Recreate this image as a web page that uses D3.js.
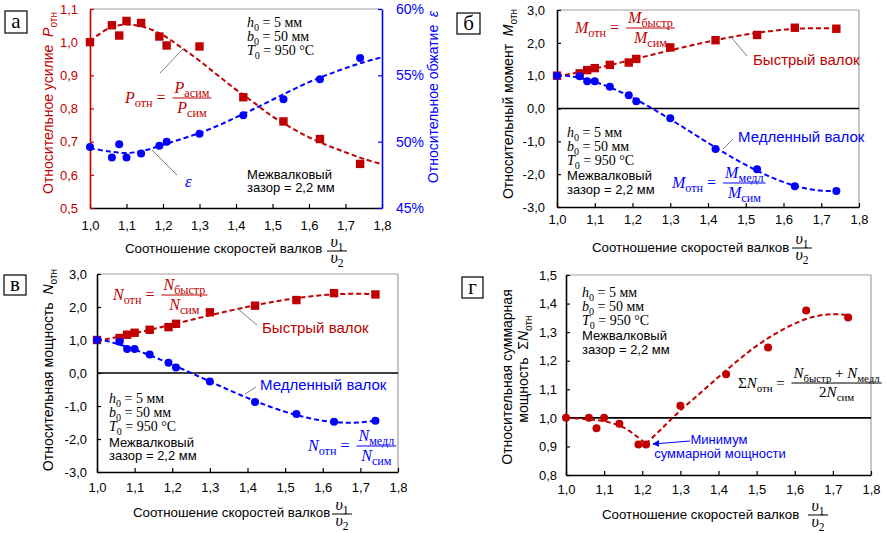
<!DOCTYPE html>
<html><head><meta charset="utf-8">
<script src="https://cdn.jsdelivr.net/npm/d3@7"></script>
<style>
body{margin:0;background:#fff}
svg{display:block}
text{white-space:pre}
</style>
</head><body>
<svg id="c" width="886" height="533"></svg>
<script>
// ---------------- data ----------------
const speedRatio   = [1.00, 1.06, 1.08, 1.10, 1.14, 1.19, 1.21, 1.30, 1.42, 1.53, 1.63, 1.74];
const forceRel     = [1.000, 1.051, 1.020, 1.064, 1.058, 1.017, 0.990, 0.987, 0.834, 0.761, 0.708, 0.633];
const reductionPct = [49.6, 48.8, 49.8, 48.8, 49.1, 49.7, 50.0, 50.6, 52.0, 53.2, 54.7, 56.3];
const torqueFast   = [1.00, 1.07, 1.17, 1.23, 1.33, 1.40, 1.51, 1.86, 2.08, 2.24, 2.46, 2.43];
const torqueSlow   = [1.00, 0.98, 0.83, 0.83, 0.66, 0.40, 0.22, -0.30, -1.23, -1.85, -2.37, -2.51];
const powerFast    = [1.00, 1.06, 1.16, 1.22, 1.31, 1.39, 1.49, 1.84, 2.04, 2.21, 2.42, 2.38];
const powerSlow    = [1.00, 0.95, 0.73, 0.73, 0.56, 0.31, 0.17, -0.26, -0.88, -1.24, -1.48, -1.45];
const powerSum     = [1.000, 1.000, 0.964, 1.000, 0.979, 0.907, 0.907, 1.042, 1.153, 1.246, 1.376, 1.351];

// trend lines of panels а and г
const trendX         = [1.00, 1.05, 1.10, 1.15, 1.20, 1.25, 1.30, 1.35, 1.40, 1.45, 1.50, 1.55, 1.60, 1.65, 1.70, 1.75, 1.80];
const forceTrend     = [1.003, 1.041, 1.053, 1.045, 1.021, 0.984, 0.944, 0.900, 0.857, 0.817, 0.776, 0.743, 0.713, 0.689, 0.668, 0.648, 0.632];
const reductionTrend = [49.52, 49.27, 49.14, 49.34, 49.77, 50.20, 50.65, 51.20, 51.83, 52.48, 53.16, 53.84, 54.49, 55.04, 55.54, 55.99, 56.37];
const sumTrendX1     = [1.00, 1.05, 1.10, 1.15, 1.20, 1.21];
const sumTrend1      = [1.000, 0.996, 0.988, 0.967, 0.920, 0.909];
const sumTrendX2     = [1.21, 1.25, 1.30, 1.35, 1.40, 1.45, 1.50, 1.55, 1.60, 1.65, 1.70, 1.74];
const sumTrend2      = [0.909, 0.961, 1.026, 1.084, 1.143, 1.200, 1.252, 1.295, 1.330, 1.354, 1.363, 1.359];

const xTicks         = [1.0, 1.1, 1.2, 1.3, 1.4, 1.5, 1.6, 1.7, 1.8];
const forceTicks     = [0.5, 0.6, 0.7, 0.8, 0.9, 1.0, 1.1];
const reductionTicks = [45, 50, 55, 60];
const relTicks       = [-3, -2, -1, 0, 1, 2, 3];
const sumTicks       = [0.8, 0.9, 1.0, 1.1, 1.2, 1.3, 1.4, 1.5];

// ---------------- helpers ----------------
const svg = d3.select("#c");
const RED = "#c00000", BLUE = "#0000ff", FRAME = "#a0a0a0", LEAD = "#7f7f7f";
const SANS = "'Liberation Sans', Arial, sans-serif";
const SERIF = "'Liberation Serif', 'Times New Roman', serif";
const fmt1 = d => d3.format(".1f")(d).replace(".", ",").replace("\u2212", "-");
const fmtPct = d => d + "%";

function polyfit(xs, ys, deg) {
  const c = 1.4, n = deg + 1;
  const A = Array.from({length: n}, () => new Array(n + 1).fill(0));
  xs.forEach((xv, k) => {
    const t = xv - c;
    for (let i = 0; i < n; i++) {
      for (let j = 0; j < n; j++) A[i][j] += Math.pow(t, i + j);
      A[i][n] += ys[k] * Math.pow(t, i);
    }
  });
  for (let i = 0; i < n; i++) {
    let p = i;
    for (let r = i + 1; r < n; r++) if (Math.abs(A[r][i]) > Math.abs(A[p][i])) p = r;
    [A[i], A[p]] = [A[p], A[i]];
    for (let r = 0; r < n; r++) if (r !== i) {
      const f = A[r][i] / A[i][i];
      for (let k = i; k <= n; k++) A[r][k] -= f * A[i][k];
    }
  }
  const coef = A.map((row, i) => row[n] / row[i]);
  return xv => coef.reduce((s, a, i) => s + a * Math.pow(xv - c, i), 0);
}

function rich(g, x, y, parts, o = {}) {
  const size = o.size || 14;
  const subScale = o.sub || 0.72;
  const t = g.append("text").attr("x", x).attr("y", y)
    .attr("fill", o.color || "#000").attr("font-family", o.family || SERIF)
    .attr("font-size", size).attr("text-anchor", o.anchor || "start");
  if (o.transform) t.attr("transform", o.transform);
  let shift = 0;
  parts.forEach(p => {
    const [txt, st = ""] = Array.isArray(p) ? p : [p, ""];
    const sub = st.includes("s");
    const target = sub ? size * 0.25 : 0;
    const ts = t.append("tspan").text(txt).attr("font-size", sub ? size * subScale : size);
    if (st.includes("i")) ts.attr("font-style", "italic");
    if (target !== shift) { ts.attr("dy", target - shift); shift = target; }
  });
  return t;
}

function formula(g, x, barY, lhs, num, den, color, size = 15, sub = 0.72) {
  const l = rich(g, x, barY + size * 0.33, lhs, {size, color, sub});
  const lw = l.node().getComputedTextLength();
  const fx = x + lw + 3;
  const n = rich(g, 0, barY - 5, num, {size, color, anchor: "middle", sub});
  const d = rich(g, 0, barY + size * 0.95, den, {size, color, anchor: "middle", sub});
  const bw = Math.max(n.node().getComputedTextLength(), d.node().getComputedTextLength()) + 4;
  n.attr("x", fx + bw / 2); d.attr("x", fx + bw / 2);
  g.append("line").attr("x1", fx).attr("x2", fx + bw).attr("y1", barY).attr("y2", barY)
    .attr("stroke", color).attr("stroke-width", 1);
}

function styleAxis(a, color) {
  a.attr("font-family", SANS).attr("font-size", 13);
  a.selectAll(".domain").attr("stroke", color).attr("stroke-width", 1.6);
  a.selectAll(".tick line").attr("stroke", color).attr("stroke-width", 1.2);
  a.selectAll(".tick text").attr("fill", color);
}

function panel(o) {
  const g = svg.append("g");
  const x = d3.scaleLinear().domain([1, 1.8]).range([o.x0, o.x1]);
  const y = d3.scaleLinear().domain(o.yDomain).range([o.y1, o.y0]);
  g.append("line").attr("x1", o.x0).attr("x2", o.x1).attr("y1", o.y0).attr("y2", o.y0)
    .attr("stroke", FRAME).attr("stroke-width", 1.2);
  if (!o.right) g.append("line").attr("x1", o.x1).attr("x2", o.x1).attr("y1", o.y0).attr("y2", o.y1)
    .attr("stroke", FRAME).attr("stroke-width", 1.2);
  if (o.zero !== undefined) g.append("line").attr("x1", o.x0).attr("x2", o.x1)
    .attr("y1", y(o.zero)).attr("y2", y(o.zero)).attr("stroke", "#000").attr("stroke-width", 1.6);
  const ax = g.append("g").attr("transform", `translate(0,${o.y1})`)
    .call(d3.axisBottom(x).tickValues(xTicks).tickFormat(fmt1).tickSizeInner(-4).tickSizeOuter(0).tickPadding(o.xPad));
  styleAxis(ax, "#000");
  const ay = g.append("g").attr("transform", `translate(${o.x0},0)`)
    .call(d3.axisLeft(y).tickValues(o.yTicks).tickFormat(o.yFmt).tickSizeInner(-4).tickSizeOuter(0).tickPadding(o.yPad));
  styleAxis(ay, o.leftColor || "#000");
  return {g, x, y};
}

function dashed(P, pts, y, color) {
  P.g.append("path").datum(pts).attr("fill", "none").attr("stroke", color)
    .attr("stroke-width", 2).attr("stroke-dasharray", "5,3")
    .attr("d", d3.line().curve(d3.curveCatmullRom).x(d => P.x(d[0])).y(d => y(d[1])));
}
function fitTrend(P, y, xs, ys, deg, from, to, color) {
  const f = polyfit(xs, ys, deg);
  const pts = d3.range(from, to + 1e-9, 0.005).map(v => [v, f(v)]);
  if (pts[pts.length - 1][0] < to) pts.push([to, f(to)]);
  dashed(P, pts, y, color);
}
function squares(P, y, vals, color) {
  P.g.append("g").selectAll("rect").data(d3.zip(speedRatio, vals)).join("rect")
    .attr("x", d => P.x(d[0]) - 4.2).attr("y", d => y(d[1]) - 4.2)
    .attr("width", 8.4).attr("height", 8.4).attr("fill", color);
}
function circles(P, y, vals, color) {
  P.g.append("g").selectAll("circle").data(d3.zip(speedRatio, vals)).join("circle")
    .attr("cx", d => P.x(d[0])).attr("cy", d => y(d[1])).attr("r", 4).attr("fill", color);
}
function lead(x1, y1, x2, y2) {
  svg.append("line").attr("x1", x1).attr("y1", y1).attr("x2", x2).attr("y2", y2)
    .attr("stroke", LEAD).attr("stroke-width", 1);
}
function tag(x, y, w, h, letter) {
  svg.append("rect").attr("x", x).attr("y", y).attr("width", w).attr("height", h)
    .attr("fill", "#fff").attr("stroke", "#000").attr("stroke-width", 1.2);
  svg.append("text").attr("x", x + w / 2).attr("y", y + h / 2 + 6).attr("text-anchor", "middle")
    .attr("font-family", SERIF).attr("font-size", 21).text(letter);
}
function xTitle(tx, ty, fx, barY) {
  svg.append("text").attr("x", tx).attr("y", ty).attr("font-family", SANS).attr("font-size", 13.3)
    .attr("fill", "#000").text("Соотношение скоростей валков");
  rich(svg, fx, barY - 4, [["υ", "i"], ["1", "s"]], {size: 16, anchor: "middle"});
  rich(svg, fx, barY + 12, [["υ", "i"], ["2", "s"]], {size: 16, anchor: "middle"});
  svg.append("line").attr("x1", fx - 10).attr("x2", fx + 10).attr("y1", barY).attr("y2", barY)
    .attr("stroke", "#000").attr("stroke-width", 1);
}
function params(x, ys, color = "#000") {
  rich(svg, x, ys[0], [["h", "i"], ["0", "s"], [" = 5 мм"]], {size: 14, color});
  rich(svg, x, ys[1], [["b", "i"], ["0", "s"], [" = 50 мм"]], {size: 14, color});
  rich(svg, x, ys[2], [["T", "i"], ["0", "s"], [" = 950 °C"]], {size: 14, color});
  svg.append("text").attr("x", x).attr("y", ys[3]).attr("font-family", SANS).attr("font-size", 13).text("Межвалковый");
  svg.append("text").attr("x", x).attr("y", ys[4]).attr("font-family", SANS).attr("font-size", 13).text("зазор = 2,2 мм");
}

// ---------------- panel а ----------------
const A = panel({x0: 90, x1: 382, y0: 9, y1: 208, yDomain: [0.5, 1.1], yTicks: forceTicks,
  yFmt: fmt1, leftColor: RED, right: true, xPad: 13, yPad: 12});
const yEps = d3.scaleLinear().domain([45, 60]).range([208, 9]);
const ayR = A.g.append("g").attr("transform", "translate(382,0)")
  .call(d3.axisRight(yEps).tickValues(reductionTicks).tickFormat(fmtPct).tickSizeInner(-4).tickSizeOuter(0).tickPadding(14));
styleAxis(ayR, BLUE);
ayR.selectAll(".tick text").attr("font-size", 14);
dashed(A, d3.zip(trendX, forceTrend), A.y, RED);
dashed(A, d3.zip(trendX, reductionTrend), yEps, BLUE);
squares(A, A.y, forceRel, RED);
circles(A, yEps, reductionPct, BLUE);
params(247, [27, 41, 55, 179, 192]);
formula(svg, 125, 98, [["P", "i"], ["отн", "s"], [" = "]], [["P", "i"], ["асим", "s"]], [["P", "i"], ["сим", "s"]], RED, 16, 0.76);
rich(svg, 185, 187, [["ε", "i"]], {size: 17, color: BLUE});
lead(160, 73, 183, 49);
lead(152, 150, 177, 175);
rich(svg, 0, 0, [["Относительное усилие  "], ["P", "i"], ["отн", "s"]],
  {size: 14, color: RED, family: SANS, anchor: "middle", transform: "translate(53,103) rotate(-90)"});
rich(svg, 0, 0, [["Относительное обжатие  "], ["ε", "i"]],
  {size: 14, color: BLUE, family: SANS, anchor: "middle", transform: "translate(438,97) rotate(-90)"});
xTitle(125, 253, 337, 251);
tag(5, 11, 22, 22, "а");

// ---------------- panel б ----------------
const B = panel({x0: 557, x1: 859, y0: 10, y1: 207, yDomain: [-3, 3], yTicks: relTicks,
  yFmt: fmt1, zero: 0, xPad: 8, yPad: 12});
fitTrend(B, B.y, speedRatio, torqueFast, 3, 1.0, 1.74, RED);
fitTrend(B, B.y, speedRatio, torqueSlow, 3, 1.0, 1.74, BLUE);
squares(B, B.y, torqueFast, RED);
circles(B, B.y, torqueSlow, BLUE);
params(567, [137, 151, 165, 180, 194]);
formula(svg, 575, 28, [["M", "i"], ["отн", "s"], [" = "]], [["M", "i"], ["быстр", "s"]], [["M", "i"], ["сим", "s"]], RED, 16, 0.76);
formula(svg, 672, 183, [["M", "i"], ["отн", "s"], [" = "]], [["M", "i"], ["медл", "s"]], [["M", "i"], ["сим", "s"]], BLUE, 16, 0.76);
svg.append("text").attr("x", 753).attr("y", 65).attr("font-family", SANS).attr("font-size", 15).attr("fill", RED).text("Быстрый валок");
svg.append("text").attr("x", 738).attr("y", 142).attr("font-family", SANS).attr("font-size", 15).attr("fill", BLUE).text("Медленный валок");
lead(731, 37, 747, 56);
lead(723, 149, 733, 139);
rich(svg, 0, 0, [["Относительный момент  "], ["M", "i"], ["отн", "s"]],
  {size: 14, color: "#000", family: SANS, anchor: "middle", transform: "translate(513,104) rotate(-90)"});
xTitle(592, 252, 802, 248);
tag(457, 13, 23, 21, "б");

// ---------------- panel в ----------------
const C = panel({x0: 97, x1: 398, y0: 274, y1: 472, yDomain: [-3, 3], yTicks: relTicks,
  yFmt: fmt1, zero: 0, xPad: 11, yPad: 10});
fitTrend(C, C.y, speedRatio, powerFast, 3, 1.0, 1.74, RED);
fitTrend(C, C.y, speedRatio, powerSlow, 3, 1.0, 1.74, BLUE);
squares(C, C.y, powerFast, RED);
circles(C, C.y, powerSlow, BLUE);
params(109, [403, 417, 431, 447, 460]);
formula(svg, 113, 295, [["N", "i"], ["отн", "s"], [" = "]], [["N", "i"], ["быстр", "s"]], [["N", "i"], ["сим", "s"]], RED, 16, 0.76);
formula(svg, 308, 446, [["N", "i"], ["отн", "s"], [" = "]], [["N", "i"], ["медл", "s"]], [["N", "i"], ["сим", "s"]], BLUE, 16, 0.76);
svg.append("text").attr("x", 262).attr("y", 333).attr("font-family", SANS).attr("font-size", 15).attr("fill", RED).text("Быстрый валок");
svg.append("text").attr("x", 260).attr("y", 390).attr("font-family", SANS).attr("font-size", 15).attr("fill", BLUE).text("Медленный валок");
lead(238, 309, 257, 325);
lead(245, 394, 256, 387);
rich(svg, 0, 0, [["Относительная мощность  "], ["N", "i"], ["отн", "s"]],
  {size: 14, color: "#000", family: SANS, anchor: "middle", transform: "translate(53,370) rotate(-90)"});
xTitle(133, 517, 342, 514);
tag(4, 275, 22, 20, "в");

// ---------------- panel г ----------------
const D = panel({x0: 566, x1: 871, y0: 275, y1: 475, yDomain: [0.8, 1.5], yTicks: sumTicks,
  yFmt: fmt1, zero: 1.0, xPad: 10, yPad: 9});
dashed(D, d3.zip(sumTrendX1, sumTrend1), D.y, RED);
dashed(D, d3.zip(sumTrendX2, sumTrend2), D.y, RED);
circles(D, D.y, powerSum, RED);
params(582, [297, 311, 325, 340, 354]);
formula(svg, 738, 383, [["Σ"], ["N", "i"], ["отн", "s"], [" = "]],
  [["N", "i"], ["быстр", "s"], [" + "], ["N", "i"], ["медл", "s"]], [["2"], ["N", "i"], ["сим", "s"]], "#000");
svg.append("defs").append("marker").attr("id", "ah").attr("viewBox", "0 0 10 10").attr("refX", 9).attr("refY", 5)
  .attr("markerWidth", 7).attr("markerHeight", 7).attr("orient", "auto")
  .append("path").attr("d", "M0,0 L10,5 L0,10 z").attr("fill", BLUE);
svg.append("line").attr("x1", 690).attr("y1", 441).attr("x2", 653).attr("y2", 444)
  .attr("stroke", BLUE).attr("stroke-width", 1).attr("marker-end", "url(#ah)");
svg.append("text").attr("x", 719).attr("y", 444).attr("text-anchor", "middle").attr("font-family", SANS).attr("font-size", 13).attr("fill", BLUE).text("Минимум");
svg.append("text").attr("x", 720).attr("y", 458).attr("text-anchor", "middle").attr("font-family", SANS).attr("font-size", 13).attr("fill", BLUE).text("суммарной мощности");
svg.append("text").attr("font-family", SANS).attr("font-size", 14).attr("text-anchor", "middle")
  .attr("transform", "translate(512,377) rotate(-90)").text("Относительная суммарная");
rich(svg, 0, 0, [["мощность  Σ"], ["N", "i"], ["отн", "s"]],
  {size: 14, color: "#000", family: SANS, anchor: "middle", transform: "translate(528,369) rotate(-90)"});
xTitle(602, 519, 818, 515);
tag(462, 277, 21, 21, "г");
</script>
</body></html>
